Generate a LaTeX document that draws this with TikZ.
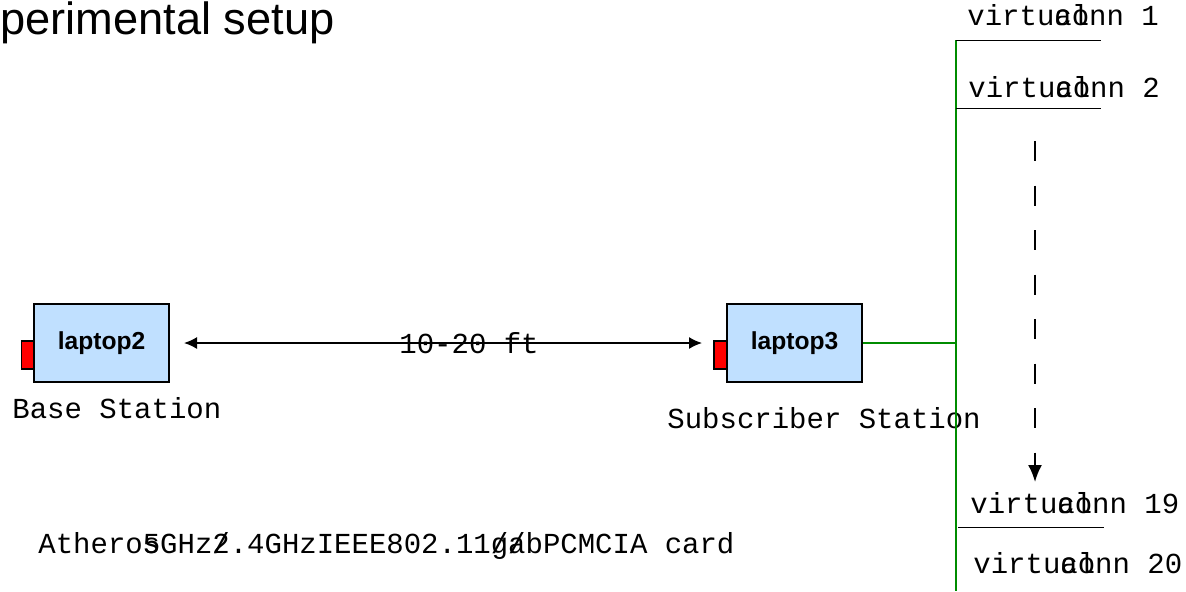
\documentclass[tikz,border=0pt]{standalone}
\usepackage{fontspec}
\setmainfont{Liberation Sans}
\setsansfont{Liberation Sans}
\setmonofont{Liberation Mono}
\usetikzlibrary{arrows.meta}
\definecolor{lapblue}{RGB}{192,224,255}
\definecolor{busgreen}{RGB}{0,140,0}
\newcommand{\vconn}[1]{virtu\rlap{a}c\rlap{l}onn #1}

\begin{document}
\begin{tikzpicture}
  [x=0.5pt,y=-0.5pt,
   box/.style={draw,line width=1pt,fill=lapblue,minimum width=67.5pt,minimum height=39pt,
     font=\sffamily\bfseries\fontsize{12.3}{15}\selectfont},
   tab/.style={draw,line width=0.8pt,fill=red,minimum width=6.5pt,minimum height=14pt,inner sep=0pt},
   lbl/.style={anchor=base west,inner sep=0pt,font=\ttfamily\fontsize{14.5}{17}\selectfont}]
  \useasboundingbox (0,0) rectangle (1186,591);

  \node[anchor=base west,inner sep=0pt,font=\fontsize{22.6}{27}\selectfont] (title) at (0,34) {perimental setup};

  % the two stations
  \node[tab] (t2) at (28,355) {};
  \node[box] (n2) at (101.5,343) {laptop2};
  \node[tab] (t3) at (720.5,355) {};
  \node[box] (n3) at (794.5,343) {laptop3};
  \node[lbl] (bs) at (12,418) {Base Station};
  \node[lbl] (ss) at (667,428) {Subscriber Station};

  \draw[line width=0.75pt,{Latex[length=6.5pt,width=6pt]}-{Latex[length=6.5pt,width=6pt]}]
    ([xshift=7pt]n2.east) -- ([xshift=-12pt]n3.west);
  \node[lbl] (dist) at (399,353) {10-20 ft};

  % virtual connections
  \coordinate (bt) at (956,40);
  \coordinate (bb) at (956,591);
  \coordinate (b1) at (956,40);
  \coordinate (b2) at (956,108);
  \coordinate (b19) at (958,527);
  \coordinate (c1) at (1101,40);
  \coordinate (c2) at (1101,108);
  \coordinate (c19) at (1104,527);
  \draw[busgreen,line width=0.75pt] (bt) -- (bb);
  \draw[busgreen,line width=0.75pt] (n3.east) -- (n3.east -| bt);
  \foreach \from/\to in {b1/c1,b2/c2,b19/c19}
    \draw[line width=0.5pt] (\from) -- (\to);

  \node[lbl] (v1) at (967,25) {\vconn{1}};
  \node[lbl] (v2) at (968,97) {\vconn{2}};
  \node[lbl] (v19) at (970,513) {\vconn{19}};
  \node[lbl] (v20) at (973,573) {\vconn{20}};

  \coordinate (d1) at (1035,141);
  \coordinate (d2) at (1035,482);
  \draw[line width=1pt,dash pattern=on 10pt off 12.25pt,-{Latex[length=8.5pt,width=7pt]}] (d1) -- (d2);

  \node[lbl] (card) at (38,553) {Athero\rlap{s}5GHz\rlap{/}2.4GHzIEEE802.11\rlap{g}/\rlap{a}/bPCMCIA card};

\end{tikzpicture}
\end{document}
